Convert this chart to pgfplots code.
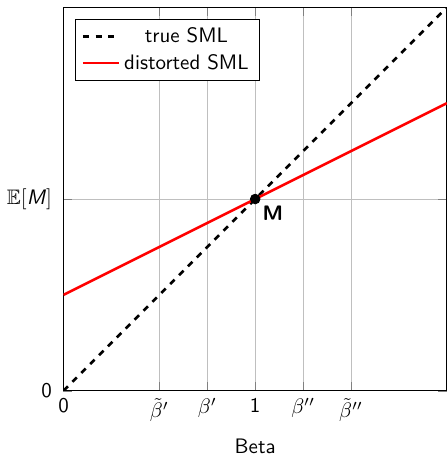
\documentclass[border=0pt]{standalone}
\usepackage{pgfplots}
\pgfplotsset{compat=1.18}
\usepackage{amssymb}
\renewcommand{\familydefault}{\sfdefault}
\begin{document}
\begin{tikzpicture}
\begin{axis}[
  scale only axis,
  width=183pt, height=183pt,
  xmin=0, xmax=2, ymin=0, ymax=2,
  xtick={0,0.5,0.75,1,1.25,1.5},
  xticklabels={\textsf{0},$\tilde\beta'$,$\beta'$,\textsf{1},$\beta''$,$\tilde\beta''$},
  ytick={0,1},
  yticklabels={\textsf{0},$\mathbb{E}[\textsf{\textit{M}}]$},
  yticklabel style={xshift=-2pt},
  xmajorgrids, ymajorgrids,
  major grid style={gray!50},
  xlabel={Beta},
  xlabel style={yshift=-1.5pt},
  legend pos=north west,
  legend cell align=center,
]
\addplot[black, line width=1.2pt, dashed] coordinates {(0,0) (2,2)};
\addlegendentry{true SML}
\addplot[red, line width=1.2pt] coordinates {(0,0.5) (2,1.5)};
\addlegendentry{distorted SML}
\addplot[only marks, mark=*, mark size=2.3pt, black, forget plot] coordinates {(1,1)} node[below right, font=\bfseries] {M};
\end{axis}
\path (current axis.north) ++(0,3.5pt);
\end{tikzpicture}
\end{document}
